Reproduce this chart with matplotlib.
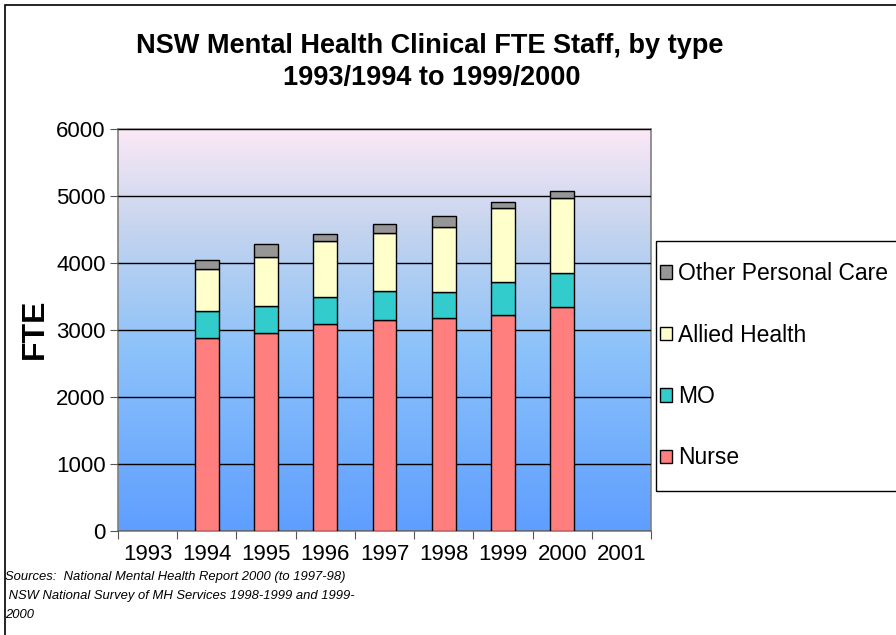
import matplotlib.pyplot as plt
import numpy as np
from matplotlib.colors import LinearSegmentedColormap
from matplotlib.patches import Rectangle

plt.rcParams['font.family'] = ['Liberation Sans', 'DejaVu Sans']

# Data
years = ['1993', '1994', '1995', '1996', '1997', '1998', '1999', '2000', '2001']
bar_years = ['1994', '1995', '1996', '1997', '1998', '1999', '2000']
nurse = [2885, 2955, 3090, 3150, 3180, 3225, 3345]
mo = [395, 408, 408, 432, 387, 497, 508]
allied = [625, 732, 830, 871, 975, 1105, 1124]
other = [140, 194, 110, 134, 164, 89, 95]

series = [('Nurse', nurse, '#FF7F7F'),
          ('MO', mo, '#33CCCC'),
          ('Allied Health', allied, '#FFFFCC'),
          ('Other Personal Care', other, '#969696')]

W, H = 896, 635
fig = plt.figure(figsize=(W / 100, H / 100), dpi=100)

def fig_rect(x0, y0, x1, y1, **kw):
    # rectangle given in pixel coords (y from top)
    return Rectangle((x0 / W, 1 - y1 / H), (x1 - x0) / W, (y1 - y0) / H,
                     transform=fig.transFigure, **kw)

# outer chart frame (runs off the right and bottom edges)
fig.patches.append(fig_rect(5, 5, 910, 650, fill=False, edgecolor='black', linewidth=1.2))

ax = fig.add_axes([118 / W, 1 - 531 / H, (651 - 118) / W, (531 - 129) / H])

# gradient background
cmap = LinearSegmentedColormap.from_list('bg', [(0.0, '#5E9EFF'), (0.45, '#8CC2FA'),
                                                (0.75, '#C4D4EE'), (1.0, '#FBE8F6')])
grad = np.linspace(0, 1, 256).reshape(-1, 1)
ax.imshow(grad, extent=[0, 9, 0, 6000], origin='lower', aspect='auto', cmap=cmap, zorder=0)

x = np.array([years.index(y) + 0.5 for y in bar_years])
bottom = np.zeros(len(x))
handles = []
for name, vals, color in series:
    h = ax.bar(x, vals, width=0.4, bottom=bottom, color=color, edgecolor='black',
               linewidth=1.0, label=name, zorder=3)
    handles.append(h)
    bottom += np.array(vals)

ax.set_xlim(0, 9)
ax.set_ylim(0, 6000)
ax.set_yticks(range(0, 6001, 1000))
ax.yaxis.grid(True, color='black', linewidth=1.0, zorder=1)
ax.set_axisbelow(False)
ax.set_xticks(range(0, 10))
ax.set_xticklabels([])
ax.set_xticks(np.arange(0.5, 9), minor=True)
ax.set_xticklabels(years, minor=True, fontsize=16)
ax.tick_params(axis='x', which='minor', length=0, pad=9)
ax.tick_params(axis='x', which='major', length=6, direction='out', color='#555555')
ax.tick_params(axis='y', length=6, direction='out', labelsize=16, color='#555555', pad=3)
for s in ax.spines.values():
    s.set_color('#808080')
    s.set_linewidth(1.2)

fig.text(35 / W, 1 - 329 / H, 'FTE', rotation=90, ha='center', va='center',
         fontsize=23, fontweight='bold')

fig.text(430 / W, 1 - 46 / H, 'NSW Mental Health Clinical FTE Staff, by type', ha='center',
         va='center', fontsize=19.5, fontweight='bold')
fig.text(432 / W, 1 - 78 / H, '1993/1994 to 1999/2000', ha='center', va='center',
         fontsize=19.5, fontweight='bold')

# legend frame drawn separately so it can run off the right edge like the original
fig.patches.append(fig_rect(656, 241, 905, 491, fill=False, edgecolor='black', linewidth=1.0))
leg = fig.legend(handles[::-1], [s[0] for s in series][::-1], loc='upper left',
                 bbox_to_anchor=(660 / W, 1 - 262 / H), fontsize=16.5, frameon=False,
                 handlelength=0.52, handleheight=0.52, handletextpad=0.25,
                 labelspacing=1.68, borderpad=0, borderaxespad=0)

for i, line in enumerate(['Sources:  National Mental Health Report 2000 (to 1997-98)',
                          ' NSW National Survey of MH Services 1998-1999 and 1999-',
                          '2000']):
    fig.text(5 / W, 1 - (577 + 19 * i) / H, line, fontsize=9.4, style='italic', va='center')

fig.savefig('out.png', dpi=100)
